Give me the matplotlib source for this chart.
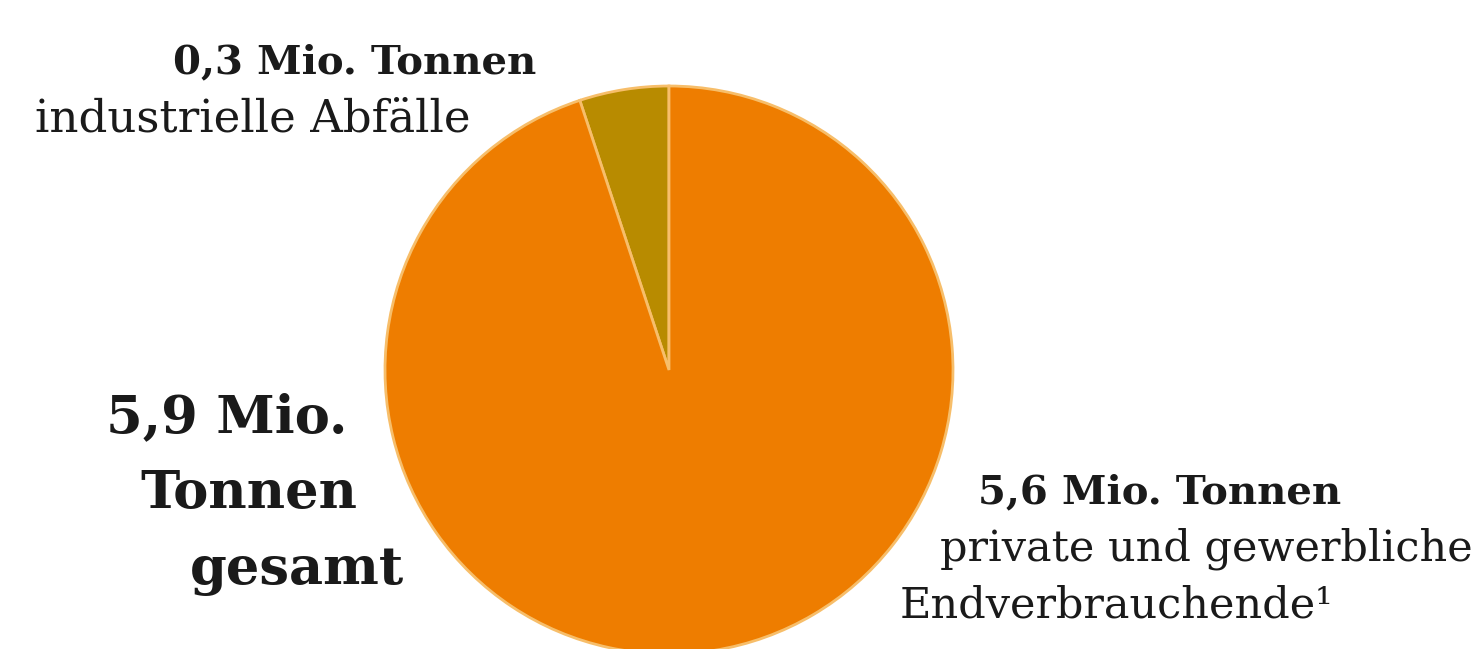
import matplotlib.pyplot as plt

# Abfallmengen in Mio. Tonnen
labels = ["industrielle Abfälle", "private und gewerbliche", "Endverbrauchende¹"]
values = [0.3, 5.6]
total = 5.9
colors = ["#B88B00", "#EE7D00"]

fig = plt.figure(figsize=(14.82, 6.49), dpi=100)
ax = fig.add_axes([0, 0, 1, 1])
ax.pie(values, colors=colors, startangle=90, counterclock=True,
       center=(669, 649 - 370), radius=284,
       wedgeprops=dict(edgecolor="#F7BE6A", linewidth=2))
ax.set_xlim(0, 1482)
ax.set_ylim(0, 649)
ax.set_aspect("equal")
ax.axis("off")

fnt = "DejaVu Serif"
col = "#1a1a1a"

def txt(x, y, s, size, bold=False):
    # x = linker Rand, y = Grundlinie (von oben gemessen)
    ax.text(x, 649 - y, s, ha="left", va="baseline", fontsize=size,
            family=fnt, fontweight="bold" if bold else "normal", color=col)

txt(173, 73, f"{values[0]:.1f}".replace(".", ",") + " Mio. Tonnen", 29, True)
txt(35, 131, labels[0], 32.5)

txt(106, 432, f"{total:.1f}".replace(".", ",") + " Mio.", 38, True)
txt(140, 508, "Tonnen", 38, True)
txt(190, 584, "gesamt", 38, True)

txt(978, 503, f"{values[1]:.1f}".replace(".", ",") + " Mio. Tonnen", 29, True)
txt(940, 561, labels[1], 31)
txt(900, 617, labels[2], 31)

fig.savefig("out.png", dpi=100)
